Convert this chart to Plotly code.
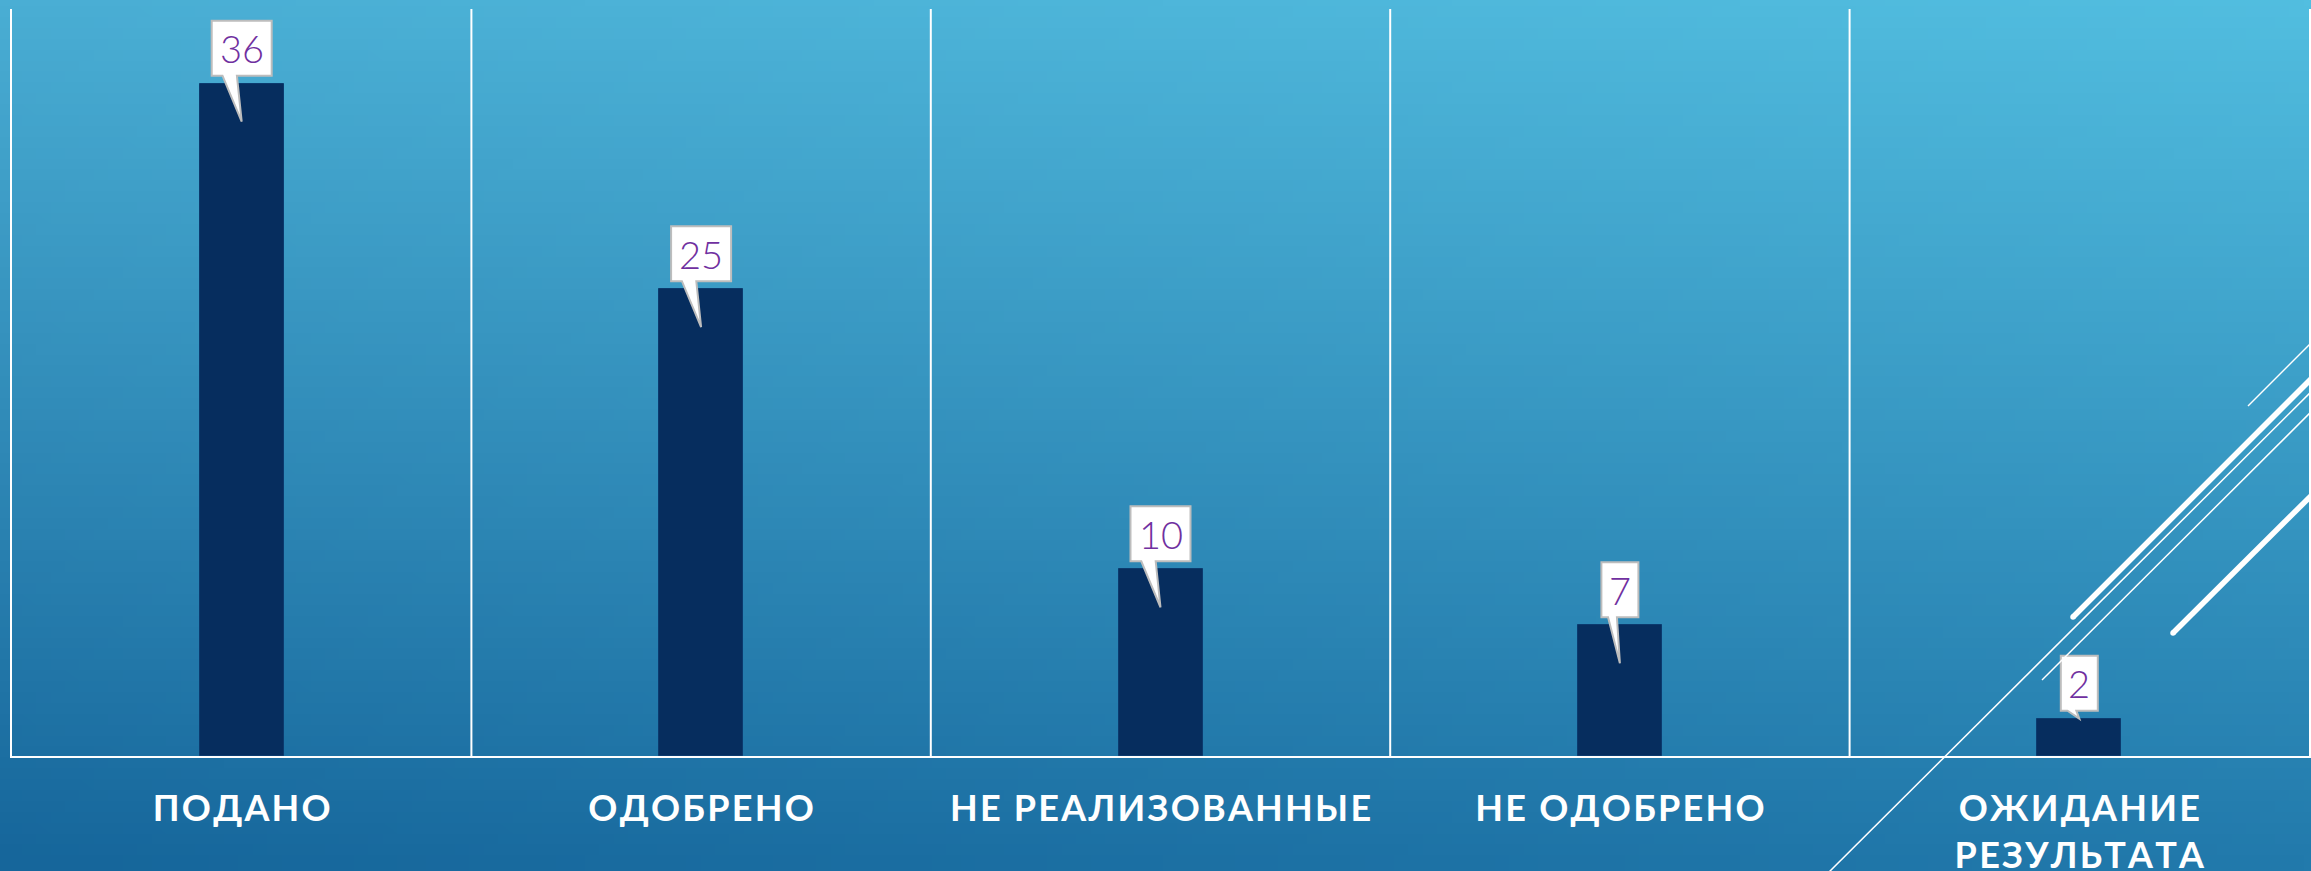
import base64
import struct
import zlib

import numpy as np
import plotly.graph_objects as go

# ---------------- data ----------------
categories = ["ПОДАНО", "ОДОБРЕНО", "НЕ РЕАЛИЗОВАННЫЕ", "НЕ ОДОБРЕНО", "ОЖИДАНИЕ<br>РЕЗУЛЬТАТА"]
values = [36, 25, 10, 7, 2]
y_max = 40

# ---------------- geometry ----------------
W, H = 2311, 871
ML, MR, MT, MB = 12, 2, 9, 115
PW = W - ML - MR
PH = H - MT - MB
PX_X = PW / len(categories)   # px per category unit
PX_Y = PH / y_max             # px per value unit


def px_to_paper(px, py):
    return (px - ML) / PW, (H - MB - py) / PH


def spaced(label):
    lines = label.split("<br>")
    out = []
    for ln in lines:
        words = ln.split(" ")
        out.append("\u200a \u200a".join("\u200a".join(list(w)) for w in words))
    return "<br>".join(out)


# ---------------- background gradient image ----------------
def gradient_png(w, h, tl, tr, bl, br):
    u = np.linspace(0, 1, w)[None, :, None]
    v = np.linspace(0, 1, h)[:, None, None]
    tl, tr, bl, br = [np.array(c, float)[None, None, :] for c in (tl, tr, bl, br)]
    top = tl * (1 - u) + tr * u
    bot = bl * (1 - u) + br * u
    img = np.clip(top * (1 - v) + bot * v, 0, 255).astype(np.uint8)
    raw = b"".join(b"\x00" + img[r].tobytes() for r in range(h))

    def chunk(t, d):
        return struct.pack(">I", len(d)) + t + d + struct.pack(">I", zlib.crc32(t + d) & 0xFFFFFFFF)

    png = (b"\x89PNG\r\n\x1a\n" + chunk(b"IHDR", struct.pack(">IIBBBBB", w, h, 8, 2, 0, 0, 0))
           + chunk(b"IDAT", zlib.compress(raw, 9)) + chunk(b"IEND", b""))
    return "data:image/png;base64," + base64.b64encode(png).decode()


bg_src = gradient_png(160, 80, (74, 174, 212), (82, 190, 224), (22, 102, 155), (34, 122, 172))

# ---------------- figure ----------------
xs = list(range(len(categories)))
fig = go.Figure()
fig.add_trace(go.Bar(
    x=xs, y=values, width=84 / PX_X,
    marker=dict(color="#062D5E", line=dict(color="#0B3A6E", width=1)),
    hoverinfo="skip", showlegend=False,
))

shapes = []
annotations = []

# vertical separators
for k in range(1, len(categories)):
    shapes.append(dict(type="line", xref="x", yref="paper", x0=k - 0.5, x1=k - 0.5, y0=0, y1=1,
                       line=dict(color="white", width=2), layer="above"))

# callouts
for i, v in enumerate(values):
    w = 60 if len(str(v)) > 1 else 37
    x0 = i - (w / 2) / PX_X
    x1 = i + (w / 2) / PX_X
    yb = v + 8 / PX_Y
    yt = v + 63 / PX_Y
    depth = 38 if v * PX_Y > 80 else 0
    tipy = v - depth / PX_Y
    bl = i - 0.32 * w / PX_X
    br = i - 0.08 * w / PX_X
    path = (f"M {x0},{yt} L {x1},{yt} L {x1},{yb} L {br},{yb} L {i},{tipy} "
            f"L {bl},{yb} L {x0},{yb} Z")
    shapes.append(dict(type="path", xref="x", yref="y", path=path, fillcolor="white",
                       line=dict(color="#BDBDBD", width=2), layer="above"))
    annotations.append(dict(x=i, y=v + 35.5 / PX_Y, xref="x", yref="y", text=str(v),
                            showarrow=False, xanchor="center", yanchor="middle",
                            font=dict(family="Lato, 'Open Sans', sans-serif", size=38,
                                      color="#7030A0", weight=300)))

# decorative diagonal lines (pixel coords)
decor = [
    ((2248, 406), (2340, 314), 1.5),
    ((2073, 617), (2340, 350), 5.5),
    ((1815, 886), (2340, 363), 1.5),
    ((2042, 680), (2340, 383), 1.5),
    ((2173, 633), (2340, 467), 5.5),
]
for (ax, ay), (bx, by), lw in decor:
    p0 = px_to_paper(ax, ay)
    p1 = px_to_paper(bx, by)
    shapes.append(dict(type="line", xref="paper", yref="paper", x0=p0[0], y0=p0[1], x1=p1[0], y1=p1[1],
                       line=dict(color="white", width=lw), layer="above"))
    if lw > 3:
        r = lw / 2
        c0 = px_to_paper(ax - r, ay + r)
        c1 = px_to_paper(ax + r, ay - r)
        shapes.append(dict(type="circle", xref="paper", yref="paper", x0=c0[0], y0=c0[1], x1=c1[0], y1=c1[1],
                           fillcolor="white", line=dict(width=0), layer="above"))

fig.update_layout(
    width=W, height=H, autosize=False,
    margin=dict(l=ML, r=MR, t=MT, b=MB, pad=0),
    paper_bgcolor="#2F8DBE", plot_bgcolor="rgba(0,0,0,0)",
    shapes=shapes, annotations=annotations,
    images=[dict(source=bg_src, xref="paper", yref="paper",
                 x=-ML / PW, y=1 + MT / PH, sizex=W / PW, sizey=H / PH,
                 xanchor="left", yanchor="top", sizing="stretch", layer="below")],
    bargap=0,
    xaxis=dict(range=[-0.5, len(categories) - 0.5], tickvals=xs,
               ticktext=[spaced(c) for c in categories],
               tickfont=dict(family="Lato, 'Open Sans', sans-serif", size=36, color="white", weight="bold"),
               showgrid=False, zeroline=False, showline=True, linecolor="white", linewidth=2,
               ticks="", ticklabelstandoff=20, automargin=False, fixedrange=True),
    yaxis=dict(range=[0, y_max], showgrid=False, zeroline=False, showticklabels=False, automargin=False,
               showline=True, mirror=True, linecolor="white", linewidth=2, ticks="", fixedrange=True),
)

fig.write_html("out.html", config={"displayModeBar": False},
               post_script="document.body.style.margin='0';document.body.style.overflow='hidden';")
